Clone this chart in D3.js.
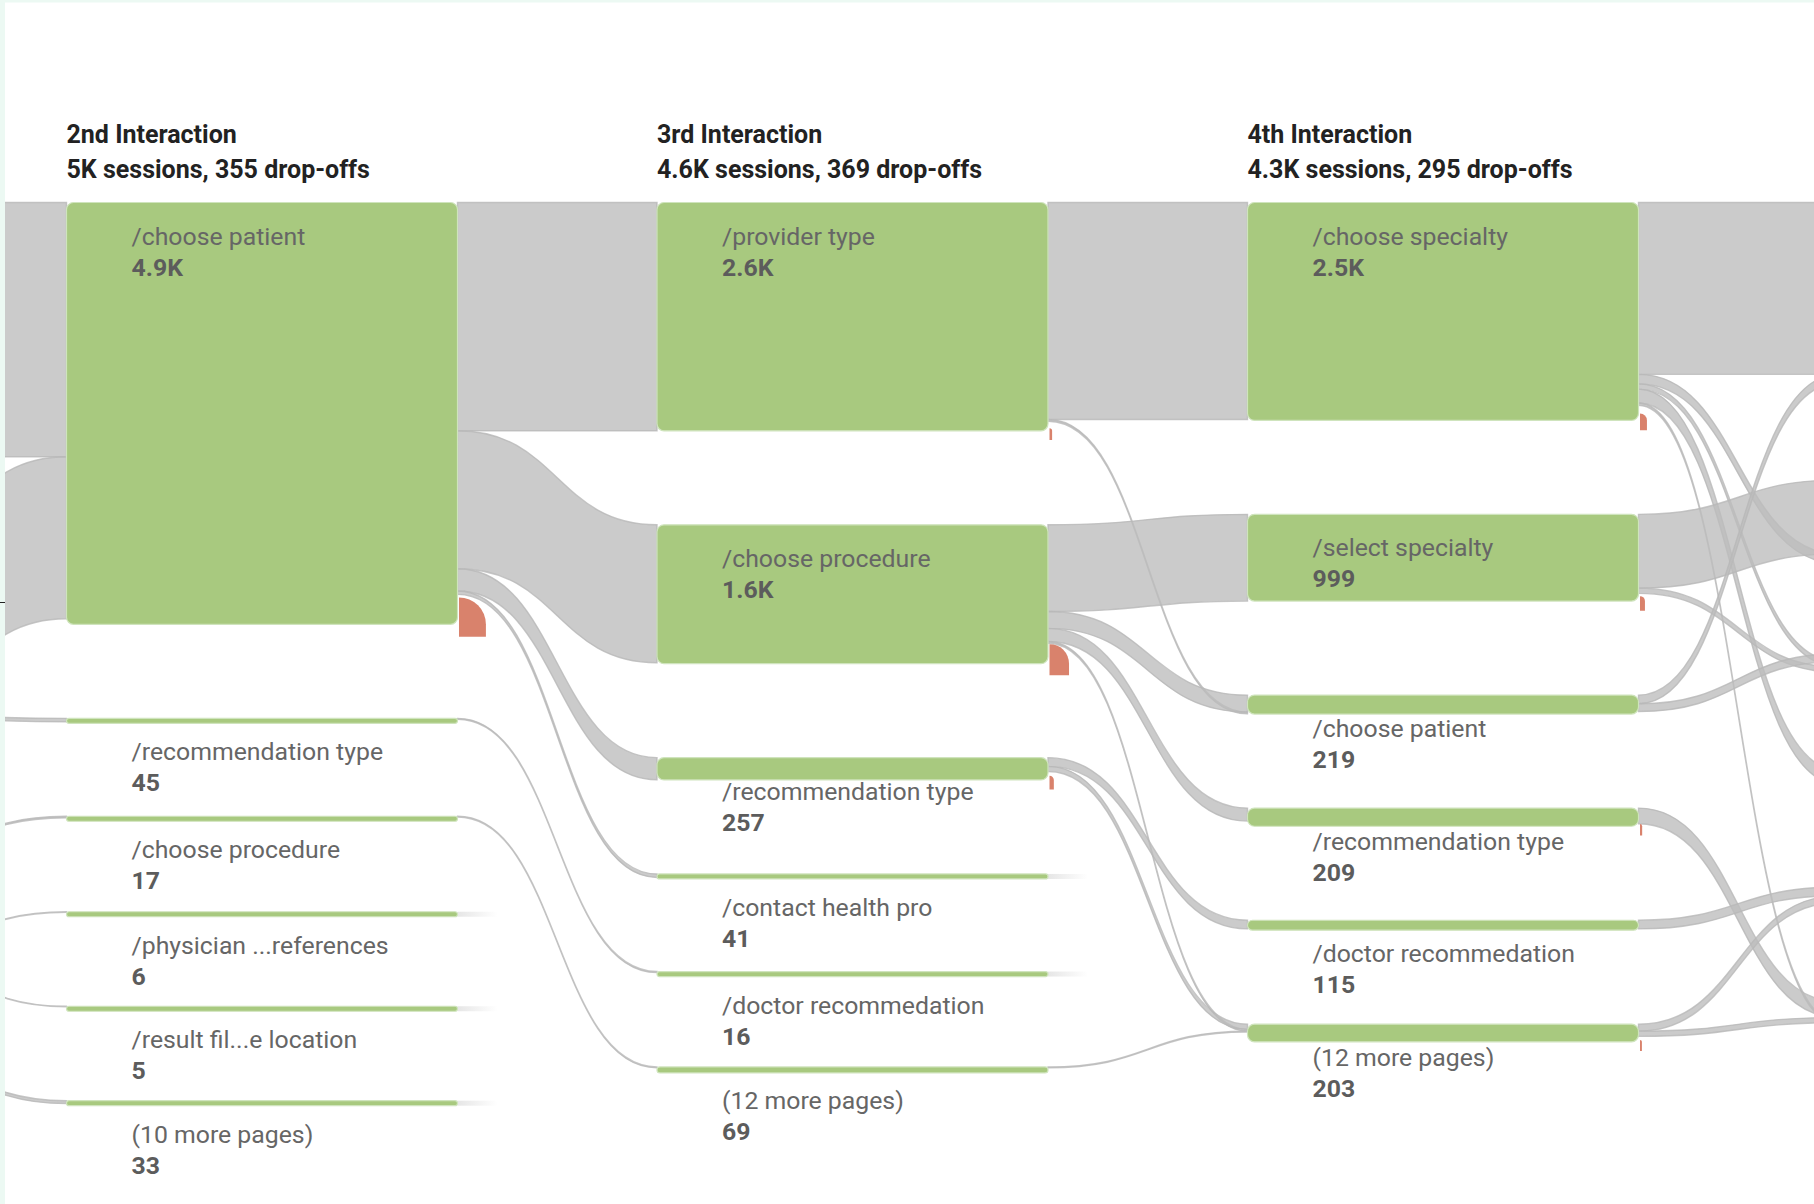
<!DOCTYPE html>
<html><head><meta charset="utf-8">
<script src="https://cdn.jsdelivr.net/npm/d3@7"></script>
<style>html,body{margin:0;padding:0;background:#fff;} svg{display:block}</style>
</head><body>
<svg id="chart" width="1814" height="1204"></svg>
<script>
// ---------------- data ----------------
const interactionTitles = ["2nd Interaction", "3rd Interaction", "4th Interaction"];
const interactionSessions = ["5K", "4.6K", "4.3K"];
const interactionDropoffs = [355, 369, 295];

const pages2 = ["/choose patient", "/recommendation type", "/choose procedure", "/physician ...references", "/result fil...e location", "(10 more pages)"];
const sessions2 = [4860, 45, 17, 6, 5, 33];
const dropoffs2 = [310, 0, 0, 0, 0, 0];

const pages3 = ["/provider type", "/choose procedure", "/recommendation type", "/contact health pro", "/doctor recommedation", "(12 more pages)"];
const sessions3 = [2630, 1600, 257, 41, 16, 69];
const dropoffs3 = [30, 225, 50, 0, 0, 0];

const pages4 = ["/choose specialty", "/select specialty", "/choose patient", "/recommendation type", "/doctor recommedation", "(12 more pages)"];
const sessions4 = [2510, 999, 219, 209, 115, 203];
const dropoffs4 = [80, 57, 0, 25, 0, 22];

// neighbouring steps that lie outside the visible frame (only the ends of their flows show)
const sessions1 = [2940, 2450, 30, 11, 40];
const sessions5 = [2115, 920, 255, 265, 240, 250];

// flows: [source page index, target page index, sessions]
const flows1to2 = [[0,0,2930],[1,0,1865],[1,1,40],[2,2,17],[3,3,6],[3,4,5],[4,5,33]];
const flows2to3 = [[0,0,2630],[0,1,1590],[0,2,255],[0,3,40],[1,4,12],[2,5,10]];
const flows3to4 = [[0,0,2500],[0,2,20],[1,1,999],[1,2,195],[1,3,150],[1,5,20],[2,4,100],[2,5,60],[5,5,10]];
const flows4to5 = [[0,0,1980],[0,1,110],[0,2,60],[0,3,160],[0,5,25],[1,1,850],[1,2,60],[2,0,100],[2,2,90],[3,5,180],[4,4,100],[5,4,80],[5,5,60]];

// ---------------- layout ----------------
const W = 1814, H = 1204;
const nodeWidth = 391, nodeGap = 94, topY = 202.5;
const colX = d3.scaleLinear().domain([1, 3]).range([66.5, 66.5 + 2 * 590.5]);
const h = d3.scaleLinear().domain([0, 1000]).range([0, 86.8]);
const fmt = v => v >= 1000 ? d3.format(".1f")(v / 1000) + "K" : String(v);

const columns = [
  {pages: null, values: sessions1, drops: null},
  {pages: pages2, values: sessions2, drops: dropoffs2},
  {pages: pages3, values: sessions3, drops: dropoffs3},
  {pages: pages4, values: sessions4, drops: dropoffs4},
  {pages: null, values: sessions5, drops: null}
];
const flowLists = [flows1to2, flows2to3, flows3to4, flows4to5];

const allNodes = [];
columns.forEach((col, c) => {
  let y = topY;
  col.nodes = col.values.map((v, i) => {
    const n = {c, i, value: v, name: col.pages ? col.pages[i] : null,
      drop: col.drops ? col.drops[i] : 0,
      x0: colX(c), x1: colX(c) + nodeWidth, y0: y, y1: y + h(v), out: [], inc: []};
    y = n.y1 + nodeGap;
    allNodes.push(n);
    return n;
  });
});

const links = [];
flowLists.forEach((list, c) => {
  list.forEach(([s, t, v], k) => {
    const L = {source: columns[c].nodes[s], target: columns[c + 1].nodes[t], value: v, k};
    L.source.out.push(L); L.target.inc.push(L); links.push(L);
  });
});
allNodes.forEach(n => {
  let y = n.y0;
  n.out.slice().sort((a, b) => a.target.i - b.target.i).forEach(L => { L.sy0 = y; y += h(L.value); L.sy1 = y; });
  y = n.y0;
  n.inc.slice().sort((a, b) => b.value - a.value || a.k - b.k).forEach(L => { L.ty0 = y; y += h(L.value); L.ty1 = y; });
});

function bandPath(L) {
  const x0 = L.source.x1, x1 = L.target.x0, xm = (x0 + x1) / 2;
  const p = d3.path();
  p.moveTo(x0, L.sy0);
  p.bezierCurveTo(xm, L.sy0, xm, L.ty0, x1, L.ty0);
  p.lineTo(x1, L.ty1);
  p.bezierCurveTo(xm, L.ty1, xm, L.sy1, x0, L.sy1);
  p.closePath();
  return p.toString();
}
function dropPath(n) {
  const t = h(n.drop), len = 9 + 0.13 * t;
  const x0 = n.x1 + 1.5, yb = n.y1;
  const p = d3.path();
  p.moveTo(x0, yb - t);
  p.arc(x0, yb, t, -Math.PI / 2, 0);
  p.lineTo(x0 + t, yb + len);
  p.lineTo(x0, yb + len);
  p.closePath();
  return p.toString();
}

// ---------------- drawing ----------------
const svg = d3.select("#chart");
const defs = svg.append("defs");
defs.append("clipPath").attr("id", "frame").append("rect")
  .attr("x", 5).attr("y", 3).attr("width", W - 5).attr("height", H - 3);
const grad = defs.append("linearGradient").attr("id", "stub");
grad.append("stop").attr("offset", "0%").attr("stop-color", "#e6e6e6");
grad.append("stop").attr("offset", "100%").attr("stop-color", "#ffffff");

svg.append("rect").attr("width", W).attr("height", H).attr("fill", "#ffffff");
svg.append("rect").attr("x", 0).attr("y", 0).attr("width", 5).attr("height", H).attr("fill", "#ecf9f3");
svg.append("rect").attr("x", 0).attr("y", 0).attr("width", W).attr("height", 2.5).attr("fill", "#ecf9f3");
svg.append("line").attr("x1", 0).attr("x2", 5).attr("y1", 602.5).attr("y2", 602.5)
  .attr("stroke", "#222").attr("stroke-width", 1);

const g = svg.append("g").attr("clip-path", "url(#frame)");

g.append("g").selectAll("path").data(links).join("path")
  .attr("d", bandPath)
  .attr("fill", "#bcbcbc").attr("fill-opacity", 0.78)
  .attr("stroke", "#b8b8b8").attr("stroke-opacity", 0.8).attr("stroke-width", 1.4);

const visible = allNodes.filter(n => n.name !== null);

g.append("g").selectAll("rect").data(visible.filter(n => n.out.length === 0)).join("rect")
  .attr("x", d => d.x1).attr("y", d => d.y0)
  .attr("width", 40).attr("height", d => Math.max(h(d.value), 5))
  .attr("fill", "url(#stub)");

g.append("g").selectAll("rect").data(allNodes).join("rect")
  .attr("x", d => d.x0).attr("y", d => d.y0)
  .attr("width", nodeWidth).attr("height", d => Math.max(h(d.value), 5))
  .attr("rx", d => Math.min(7, Math.max(h(d.value), 5) / 2))
  .attr("fill", "#a8c97f").attr("stroke", "#cfe4bd").attr("stroke-width", 1.2);

g.append("g").selectAll("path").data(allNodes.filter(n => n.drop > 0)).join("path")
  .attr("d", dropPath).attr("fill", "#d9826c");

const lab = g.append("g").selectAll("g").data(visible).join("g")
  .attr("transform", d => `translate(${d.x0 + 65},${d.y0})`);
lab.append("text").attr("y", 42).text(d => d.name)
  .attr("font-family", "Roboto, Arial, sans-serif").attr("font-size", 24.8)
  .attr("fill", "#666666");
lab.append("text").attr("y", 73).text(d => fmt(d.value))
  .attr("font-family", "Roboto, Arial, sans-serif").attr("font-size", 24.8)
  .attr("font-weight", 700).attr("fill", "#5c5c5c");

const head = svg.append("g").selectAll("g").data(interactionTitles).join("g")
  .attr("transform", (d, i) => `translate(${colX(i + 1)},0)`)
  .attr("font-family", "Roboto, Arial, sans-serif").attr("font-weight", 700)
  .attr("font-size", 25).attr("fill", "#222222");
head.append("text").attr("y", 143).text(d => d);
head.append("text").attr("y", 178)
  .text((d, i) => `${interactionSessions[i]} sessions, ${interactionDropoffs[i]} drop-offs`);
</script>
</body></html>
